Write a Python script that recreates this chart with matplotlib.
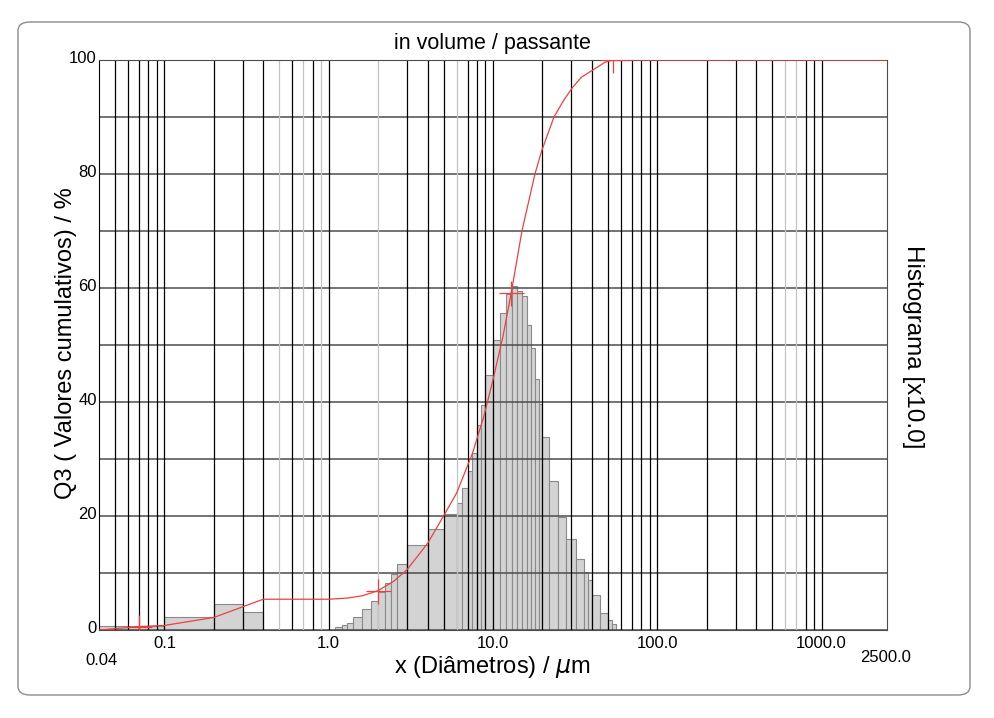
import numpy as np
import matplotlib
matplotlib.use("Agg")
from matplotlib import pyplot as plt
from matplotlib.patches import FancyBboxPatch
from matplotlib.transforms import ScaledTranslation

plt.rcParams['font.family'] = ['Liberation Sans', 'DejaVu Sans']

# --- Data
bin_edges = [0.04, 0.07, 0.1, 0.2, 0.3, 0.4, 0.5, 0.6, 0.7, 0.8, 0.9, 1.0,
             1.1, 1.2, 1.3, 1.4, 1.6, 1.8, 2.0, 2.2, 2.4, 2.6, 3.0,
             4.0, 5.0, 6.0, 6.5, 7.0, 7.5, 8.0, 8.5, 9.0, 10.0,
             11.0, 12.0, 13.0, 14.0, 15.0, 16.0, 17.0, 18.0, 19.0, 20.0,
             22.0, 25.0, 28.0, 32.0, 36.0, 38.0, 40.0, 45.0, 50.0, 53.0, 56.0, 63.0]
hist = [0.7, 0.7, 2.2, 4.6, 3.2, 0, 0, 0, 0, 0, 0, 0,
        0.5, 0.8, 1.3, 2.2, 3.6, 5.1, 6.7, 8.3, 9.8, 11.6,
        15.0, 17.7, 20.3, 22.3, 25.0, 27.9, 31.0, 36.0, 39.5, 44.7,
        50.9, 55.7, 58.9, 60.3, 59.4, 58.6, 53.5, 49.5, 44.1, 39.6,
        33.8, 26.2, 19.9, 16.0, 12.5, 10.1, 8.7, 6.2, 3.0, 1.8, 1.0, 0]

# cumulative (passante) curve
cum_x = [0.04, 0.07, 0.1, 0.2, 0.4, 0.7, 1.0, 1.3, 1.6, 2.0, 2.5, 3.0, 4.0,
         5.0, 6.0, 7.5, 8.8, 10.0, 11.5, 12.9, 15.0, 18.0, 19.8, 23.5, 26.9,
         30.5, 34.6, 39.8, 48.0, 53.4, 2500.0]
cum_y = [0.0, 0.6, 0.8, 2.2, 5.4, 5.4, 5.4, 5.6, 6.0, 6.9, 8.6, 10.6, 15.2,
         20.0, 24.0, 31.0, 37.5, 43.9, 51.5, 59.1, 70.0, 80.0, 84.1, 90.0, 92.9,
         95.2, 97.0, 98.1, 99.6, 100.0, 100.0]

mark_x = [0.07, 2.0, 12.9, 53.4]
mark_y = [0.6, 6.9, 59.1, 100.0]

grid_black = [0.05, 0.06, 0.07, 0.08, 0.09, 0.1, 0.2, 0.3, 0.4, 0.6, 0.8, 1.0,
              3, 4, 5, 7, 8, 9, 10, 20, 30, 40, 50, 60, 70, 80, 90, 100,
              200, 300, 400, 500, 800, 900, 1000]
grid_gray = [0.5, 0.7, 0.9, 2, 6, 600, 700]

xtick_vals = [0.1, 1.0, 10.0, 100.0, 1000.0]
xtick_labels = ['0.1', '1.0', '10.0', '100.0', '1000.0']
yticks = [0, 20, 40, 60, 80, 100]

# --- Figure
W, H = 994, 718
fig = plt.figure(figsize=(W / 100, H / 100), dpi=100)

frame = FancyBboxPatch((18 / W, (H - 695) / H), (970 - 18) / W, (695 - 22) / H,
                       boxstyle="round,pad=0,rounding_size=0.012",
                       transform=fig.transFigure, facecolor='none',
                       edgecolor='#8c8c8c', lw=1.0, zorder=-1)
fig.patches.append(frame)

ax = fig.add_axes([99 / W, (H - 630) / H, 788 / W, 570 / H])
ax.set_xscale('log')
ax.set_xlim(0.04, 2500)
ax.set_ylim(0, 100)
ax.patch.set_alpha(0)

# histogram bars
edges = np.array(bin_edges)
h = np.array(hist)
keep = h > 0
ax.bar(edges[:-1][keep], h[keep], width=np.diff(edges)[keep], align='edge',
       color='#d3d3d3', edgecolor='#8a8a8a', lw=0.8, zorder=1)

# grid
for y in range(0, 101, 10):
    ax.axhline(y, color='#4d4d4d', lw=1.1, zorder=2)
for x in grid_black:
    ax.axvline(x, color='black', lw=0.9, zorder=2)
for x in grid_gray:
    ax.axvline(x, color='#c4c4c4', lw=0.9, zorder=2)

# cumulative curve
ax.plot(cum_x, cum_y, color='#ee4040', lw=0.9, zorder=4)
ax.plot(mark_x, mark_y, ls='none', marker='+', ms=18, mew=0.9,
        color='#ee4040', zorder=4)

for s in ['top', 'right', 'bottom']:
    ax.spines[s].set_color('#4d4d4d')
ax.spines['left'].set_color('black')

# ticks
ax.minorticks_off()
ax.set_xticks(xtick_vals)
ax.set_xticklabels(xtick_labels, fontsize=12)
ax.set_yticks(yticks)
ax.set_yticklabels([str(v) for v in yticks], fontsize=12)
ax.tick_params(axis='x', length=0, pad=4)
ax.tick_params(axis='y', length=0, pad=1.5)
for lab in ax.get_yticklabels():
    lab.set_transform(lab.get_transform() + ScaledTranslation(0, 2.3 / 72, fig.dpi_scale_trans))

ax.annotate('0.04', xy=(0.04, 0), xycoords=('data', 'axes fraction'),
            xytext=(1.5, -22), textcoords='offset points', ha='center', va='center',
            fontsize=12)
ax.annotate('2500.0', xy=(2500, 0), xycoords=('data', 'axes fraction'),
            xytext=(-1, -20), textcoords='offset points', ha='center', va='center',
            fontsize=12)

fig.text(492 / W, 1 - 44 / H, 'in volume / passante', ha='center', va='center', fontsize=15.5)
fig.text(492 / W, 1 - 667 / H, 'x (Diâmetros) / $\\mu$m', ha='center', va='center', fontsize=17)
fig.text(66 / W, 1 - 343 / H, 'Q3 ( Valores cumulativos) / %', ha='center', va='center',
         rotation=90, fontsize=17)
fig.text(913 / W, 1 - 347 / H, 'Histograma [x10.0]', ha='center', va='center',
         rotation=-90, fontsize=17.5)

fig.savefig('out.png', dpi=100)
